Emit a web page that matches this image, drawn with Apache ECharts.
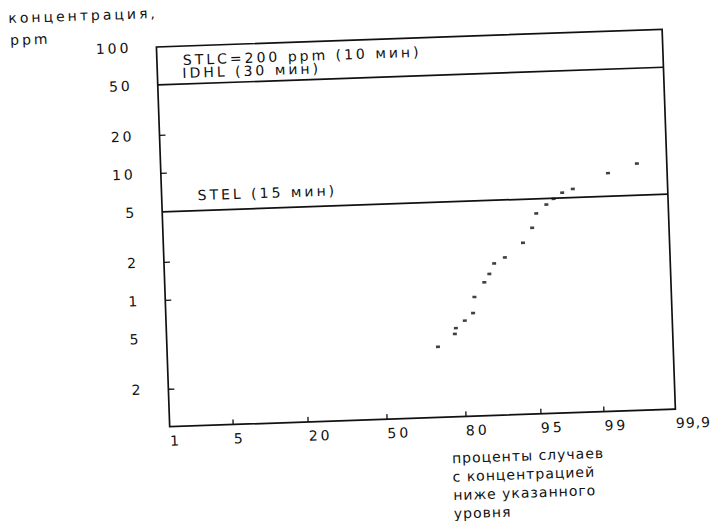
<!DOCTYPE html>
<html>
<head>
<meta charset="utf-8">
<script src="https://cdn.jsdelivr.net/npm/echarts@6/dist/echarts.min.js"></script>
<style>
  html, body { margin: 0; padding: 0; background: #fff; width: 719px; height: 521px; overflow: hidden; }
  /* the sheet sits slightly askew, so the whole drawing is turned a little */
  #chart { position: absolute; left: -20px; top: -20px; width: 759px; height: 561px;
           transform: rotate(-2deg); transform-origin: 379.5px 280.5px; }
  #chart text { letter-spacing: 3px; }
</style>
</head>
<body>
<div id="chart"></div>
<script>
// Probability axis (percent of cases below the given level)
const probabilityTicks = [1, 5, 20, 50, 80, 95, 99, 99.9];
const probabilityTickLabels = ['1', '5', '20', '50', '80', '95', '99', '99,9'];
const probabilityTickMarks = [5, 20, 50, 80, 95, 99];

// Concentration axis, ppm (logarithmic)
const concentrationTicks = [100, 50, 20, 10, 5, 2, 1, 0.5, 0.2];
const concentrationTickLabels = ['100', '50', '20', '10', '5', '2', '1', '5', '2'];
const concentrationTickMarks = [20, 10, 2, 1, 0.2];

// Measured samples: percent of cases below, concentration in ppm
const percentBelow = [71.7, 77.6, 78.0, 80.8, 83.2, 83.7, 86.3, 87.5, 88.6, 90.7,
                      93.6, 94.8, 95.3, 96.3, 96.9, 97.5, 98.1, 99.3, 99.72];
const concentrationPpm = [0.36, 0.45, 0.50, 0.57, 0.65, 0.87, 1.13, 1.31, 1.58, 1.75,
                          2.26, 2.95, 3.82, 4.46, 4.93, 5.47, 5.82, 7.59, 8.87];

// Exposure limits
const limitNames = ['IDHL (30 мин)', 'STEL (15 мин)'];
const limitValues = [50, 5];
const ceilingLabel = 'STLC=200 ppm (10 мин)';

const yAxisTitle = ['концентрация,', 'ppm'];
const xAxisTitle = ['проценты случаев', 'с концентрацией', 'ниже указанного', 'уровня'];

// Inverse of the standard normal distribution (probability paper scale)
function probit(p) {
  const a = [-3.969683028665376e+01, 2.209460984245205e+02, -2.759285104469687e+02,
             1.383577518672690e+02, -3.066479806614716e+01, 2.506628277459239e+00];
  const b = [-5.447609879822406e+01, 1.615858368580409e+02, -1.556989798598866e+02,
             6.680131188771972e+01, -1.328068155288572e+01];
  const c = [-7.784894002430293e-03, -3.223964580411365e-01, -2.400758277161838e+00,
             -2.549732539343734e+00, 4.374664141464968e+00, 2.938163982698783e+00];
  const d = [7.784695709041462e-03, 3.224671290700398e-01, 2.445134137142996e+00,
             3.754408661907416e+00];
  const pl = 0.02425, ph = 1 - pl;
  let q, r;
  if (p < pl) {
    q = Math.sqrt(-2 * Math.log(p));
    return (((((c[0]*q+c[1])*q+c[2])*q+c[3])*q+c[4])*q+c[5]) / ((((d[0]*q+d[1])*q+d[2])*q+d[3])*q+1);
  }
  if (p <= ph) {
    q = p - 0.5; r = q * q;
    return (((((a[0]*r+a[1])*r+a[2])*r+a[3])*r+a[4])*r+a[5])*q / (((((b[0]*r+b[1])*r+b[2])*r+b[3])*r+b[4])*r+1);
  }
  q = Math.sqrt(-2 * Math.log(1 - p));
  return -(((((c[0]*q+c[1])*q+c[2])*q+c[3])*q+c[4])*q+c[5]) / ((((d[0]*q+d[1])*q+d[2])*q+d[3])*q+1);
}
const toProb = pct => probit(pct / 100);
const toLog = v => Math.log10(v);

function nearestLabel(value, positions, labels) {
  let best = 0;
  positions.forEach((p, i) => { if (Math.abs(p - value) < Math.abs(positions[best] - value)) best = i; });
  return labels[best];
}

const INK = '#111';
const FONT = 'DejaVu Sans';
const xTickPos = probabilityTicks.map(toProb);
const yTickPos = concentrationTicks.map(toLog);

const chart = echarts.init(document.getElementById('chart'), null, { renderer: 'svg' });
chart.setOption({
  animation: false,
  backgroundColor: '#fff',
  textStyle: { fontFamily: FONT, color: INK },
  grid: {
    left: 184, top: 60, width: 506, height: 380,
    show: true, borderColor: INK, borderWidth: 1.7, backgroundColor: 'transparent',
    outerBoundsMode: 'none', containLabel: false
  },
  xAxis: {
    type: 'value',
    min: toProb(probabilityTicks[0]),
    max: toProb(probabilityTicks[probabilityTicks.length - 1]),
    axisLine: { show: false, onZero: false },
    splitLine: { show: false },
    axisTick: { show: true, inside: true, length: 5, customValues: probabilityTickMarks.map(toProb),
                lineStyle: { color: INK, width: 1.3 } },
    axisLabel: {
      customValues: xTickPos, hideOverlap: false, showMinLabel: true, showMaxLabel: true,
      align: 'left', margin: 7, fontSize: 14, fontFamily: FONT, color: INK,
      formatter: v => nearestLabel(v, xTickPos, probabilityTickLabels)
    }
  },
  yAxis: {
    type: 'value',
    min: toLog(0.1),
    max: toLog(100),
    axisLine: { show: false, onZero: false },
    splitLine: { show: false },
    axisTick: { show: true, inside: true, length: 6, customValues: concentrationTickMarks.map(toLog),
                lineStyle: { color: INK, width: 1.3 } },
    axisLabel: {
      customValues: yTickPos, hideOverlap: false, showMinLabel: true, showMaxLabel: true,
      margin: 25, fontSize: 14, fontFamily: FONT, color: INK,
      formatter: v => nearestLabel(v, yTickPos, concentrationTickLabels)
    }
  },
  series: [{
    type: 'scatter',
    silent: true,
    symbol: 'rect',
    symbolSize: [4, 2.6],
    itemStyle: { color: INK },
    data: percentBelow.map((p, i) => [toProb(p), toLog(concentrationPpm[i])]),
    markLine: {
      silent: true,
      symbol: ['none', 'none'],
      lineStyle: { color: INK, width: 1.7, type: 'solid' },
      label: { show: true, formatter: '{b}', position: 'insideStartTop',
               color: INK, fontSize: 14, fontFamily: FONT },
      data: [
        { name: limitNames[0], yAxis: toLog(limitValues[0]), label: { distance: [25, 4] } },
        { name: limitNames[1], yAxis: toLog(limitValues[1]), label: { distance: [36, 8] } }
      ]
    }
  }],
  graphic: [
    { type: 'text', x: 210, y: 74, silent: true,
      style: { text: ceilingLabel, fill: INK, fontSize: 14, fontFamily: FONT, verticalAlign: 'middle' } },
    { type: 'text', x: 37, y: 26, silent: true,
      style: { text: yAxisTitle[0], fill: INK, fontSize: 14, fontFamily: FONT, verticalAlign: 'middle' } },
    { type: 'text', x: 38, y: 48, silent: true,
      style: { text: yAxisTitle[1], fill: INK, fontSize: 14, fontFamily: FONT, verticalAlign: 'middle' } },
    { type: 'text', x: 465, y: 472, silent: true,
      style: { text: xAxisTitle.join('\n'), fill: INK, fontSize: 14, fontFamily: FONT,
               lineHeight: 18.5, verticalAlign: 'top' } }
  ]
});

// the caption under the probability axis and the last tick label are set tighter
const tightTexts = xAxisTitle.concat([probabilityTickLabels[probabilityTickLabels.length - 1]]);
function tightenTexts() {
  document.querySelectorAll('#chart text, #chart tspan').forEach(t => {
    if (tightTexts.includes(t.textContent.trim())) t.style.letterSpacing = '1px';
  });
}
tightenTexts();
chart.on('finished', tightenTexts);
</script>
</body>
</html>
